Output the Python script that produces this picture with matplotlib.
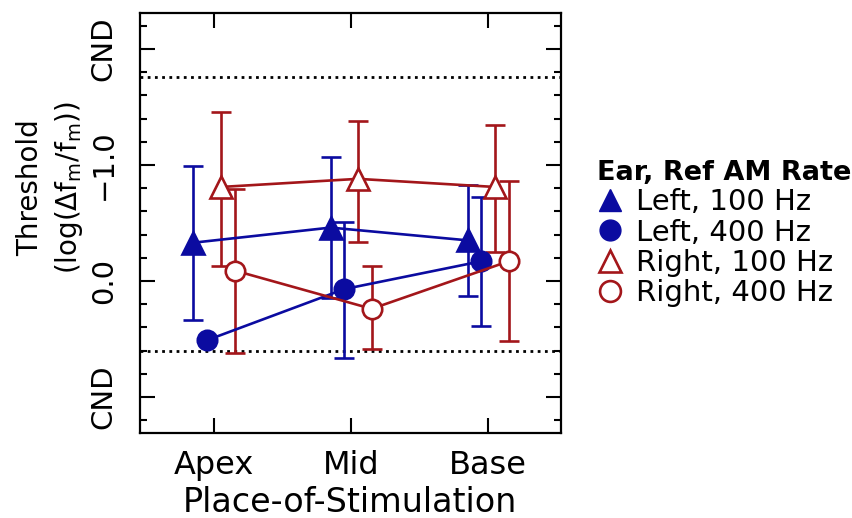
import numpy as np
import matplotlib
matplotlib.use("Agg")
import matplotlib.pyplot as plt
from matplotlib.lines import Line2D
from matplotlib.ticker import FixedLocator, MultipleLocator

plt.rcParams['font.family'] = ['DejaVu Sans']
plt.rcParams['mathtext.fontset'] = 'dejavusans'

# place of stimulation along the cochlea
places = ["Apex", "Mid", "Base"]

# thresholds, log(dfm/fm); error bar ends given as (upper on plot, lower on plot)
left100_mean = [-0.33, -0.46, -0.35]
left100_top = [-1.00, -1.07, -0.83]
left100_bot = [0.33, 0.15, 0.13]

left400_mean = [0.51, 0.07, -0.17]
left400_top = [np.nan, -0.52, -0.73]
left400_bot = [np.nan, 0.65, 0.38]

right100_mean = [-0.81, -0.88, -0.81]
right100_top = [-1.49, -1.42, -1.37]
right100_bot = [-0.16, -0.38, -0.28]

right400_mean = [-0.09, 0.24, -0.17]
right400_top = [-0.80, -0.11, -0.86]
right400_bot = [0.61, 0.61, 0.52]

# could-not-determine limits
cnd_lines = [-1.76, 0.60]

series_labels = ["Left, 100 Hz", "Left, 400 Hz", "Right, 100 Hz", "Right, 400 Hz"]

BLUE = "#0b0ba0"
RED = "#a3161a"

fig = plt.figure(figsize=(8.52, 5.18), dpi=100)
ax = fig.add_axes([0.1643, 0.1641, 0.494, 0.811])

x = np.arange(1, len(places) + 1)
series = [
    (left100_mean, left100_top, left100_bot, -0.15, BLUE, "^", BLUE),
    (left400_mean, left400_top, left400_bot, -0.05, BLUE, "o", BLUE),
    (right100_mean, right100_top, right100_bot, 0.05, RED, "^", "white"),
    (right400_mean, right400_top, right400_bot, 0.15, RED, "o", "white"),
]

for mean, top, bot, dx, col, mk, face in series:
    mean = np.array(mean)
    err = np.abs(np.vstack([np.array(bot) - mean, mean - np.array(top)]))
    ms = 16 if mk == "^" else 14
    ax.errorbar(x + dx, mean, yerr=err, color=col, lw=1.9, capsize=7,
                capthick=1.9, elinewidth=1.9, marker=mk, ms=ms, mfc=face,
                mec=col, mew=1.9, zorder=3)

for yv in cnd_lines:
    ax.axhline(yv, color="black", lw=2, ls=(0, (1, 1.6)), zorder=1)

ax.set_xlim(0.46, 3.53)
ax.set_ylim(1.31, -2.31)

ax.set_xticks(x)
ax.set_xticklabels(places, fontsize=23)
ax.yaxis.set_major_locator(FixedLocator([-2, -1, 0, 1]))
ax.set_yticklabels(["CND", "\u22121.0", "0.0", "CND"], rotation=90,
                   va="center", fontsize=21)
ax.yaxis.set_minor_locator(MultipleLocator(0.2))

ax.tick_params(axis="x", which="major", direction="in", length=11, width=1.5,
               top=True, pad=12)
ax.tick_params(axis="y", which="major", direction="in", length=11, width=1.5,
               right=True, pad=16)
ax.tick_params(axis="y", which="minor", direction="in", length=5, width=1.5,
               right=True)
for sp in ax.spines.values():
    sp.set_linewidth(1.6)

ax.set_xlabel("Place-of-Stimulation", fontsize=24, labelpad=4)
ax.text(-0.212, 0.585, "Threshold\n(log($\\Delta$f$_{\\rm m}$/f$_{\\rm m}$))",
        transform=ax.transAxes, rotation=90, ha="center", va="center",
        fontsize=20, linespacing=1.35, multialignment="center")

handles = [
    Line2D([], [], ls="none", marker="^", ms=16, color=BLUE, mec=BLUE),
    Line2D([], [], ls="none", marker="o", ms=15, color=BLUE, mec=BLUE),
    Line2D([], [], ls="none", marker="^", ms=16, mfc="white", mec=RED, mew=1.9),
    Line2D([], [], ls="none", marker="o", ms=15, mfc="white", mec=RED, mew=1.9),
]
leg = ax.legend(handles, series_labels, loc="upper left",
                bbox_to_anchor=(1.085, 0.65), frameon=False, fontsize=21,
                title="Ear, Ref AM Rate",
                title_fontproperties={"weight": "bold", "size": 19.5},
                alignment="left", handlelength=0.9, handletextpad=0.45,
                labelspacing=0.08, borderaxespad=0, borderpad=0)

fig.savefig("out.png", dpi=100)
